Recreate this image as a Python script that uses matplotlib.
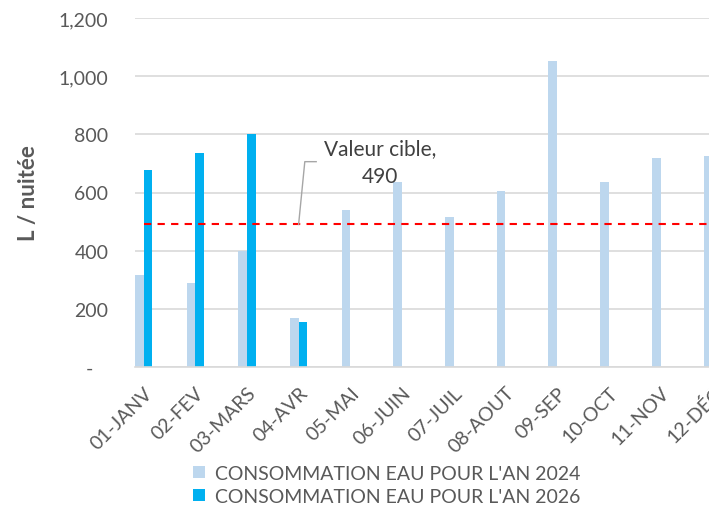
import matplotlib
matplotlib.use("Agg")
import matplotlib.pyplot as plt
import numpy as np
from matplotlib.ticker import FuncFormatter

months = ["01-JANV", "02-FEV", "03-MARS", "04-AVR", "05-MAI", "06-JUIN",
          "07-JUIL", "08-AOUT", "09-SEP", "10-OCT", "11-NOV", "12-DÉC"]
conso_2024 = [316, 288, 400, 168, 540, 637, 515, 605, 1052, 635, 718, 727]
conso_2026 = [678, 735, 800, 156, None, None, None, None, None, None, None, None]
target = [490, 490, 490, 490, 490, 490, 490, 490, 490, 490, 490, 490]
target_value = 490
yticks = [0, 200, 400, 600, 800, 1000, 1200]

label_2024 = "CONSOMMATION EAU POUR L'AN 2024"
label_2026 = "CONSOMMATION EAU POUR L'AN 2026"

plt.rcParams['font.family'] = ['Lato', 'DejaVu Sans']
GRAY = '#595959'
C24 = '#BDD7EE'
C26 = '#00B0F0'

W, H = 709, 510
fig = plt.figure(figsize=(W / 100, H / 100), dpi=100)

px_per_cat = 51.7
x0_px = 143.5
bw = 8.7 / px_per_cat
xmin = -bw
xmax = 11.5
left_px = x0_px + xmin * px_per_cat
right_px = x0_px + xmax * px_per_cat
bottom_px, top_px = 368, 19
ax = fig.add_axes([left_px / W, 1 - bottom_px / H,
                   (right_px - left_px) / W, (bottom_px - top_px) / H])

x = np.arange(len(months))
v26 = [np.nan if v is None else v for v in conso_2026]
ax.bar(x - bw / 2, conso_2024, width=bw, color=C24, label=label_2024, zorder=2)
ax.bar(x + bw / 2, v26, width=bw, color=C26, label=label_2026, zorder=2)
ax.plot(x, target, color='#FF0000', lw=1.5, linestyle=(0, (3.5, 3.0)), zorder=3)

ax.set_xlim(xmin, xmax)
ax.set_ylim(0, 1200)
ax.set_yticks(yticks)
ax.yaxis.set_major_formatter(FuncFormatter(lambda v, p: "-   " if v == 0 else f"{int(v):,}"))
ax.grid(axis='y', color='#D9D9D9', lw=1.2, zorder=0)
ax.set_axisbelow(True)
for s in ['top', 'right', 'left']:
    ax.spines[s].set_visible(False)
ax.spines['bottom'].set_color('#D9D9D9')
ax.spines['bottom'].set_linewidth(1.2)
ax.tick_params(axis='y', length=0, pad=19, labelsize=14, labelcolor=GRAY)
ax.tick_params(axis='x', length=0, pad=12, labelsize=14, labelcolor=GRAY)
ax.set_xticks(x)
ax.set_xticklabels(months, rotation=45, ha='right', va='top', rotation_mode='anchor')

# target annotation
ax.plot([3, 3.12, 3.34], [target_value, 706, 706], color='#A6A6A6', lw=1.0, zorder=3)
ax.text(4.57, 706, f"Valeur cible,\n{target_value}", ha='center', va='center',
        fontsize=15, color='#404040', linespacing=1.5, zorder=4)

fig.text(29 / W, 1 - 193 / H, "L / nuitée", rotation=90, ha='center', va='center',
         fontsize=16, fontweight='bold', color=GRAY)

handles, labels = ax.get_legend_handles_labels()
leg = fig.legend(handles, labels, loc='upper left', bbox_to_anchor=(193 / W, 1 - 466 / H),
                 frameon=False, fontsize=14, handlelength=0.62, handleheight=0.62,
                 handletextpad=0.5, labelspacing=0.3, borderpad=0, borderaxespad=0)
for t in leg.get_texts():
    t.set_color(GRAY)

fig.savefig("out.png", dpi=100)
